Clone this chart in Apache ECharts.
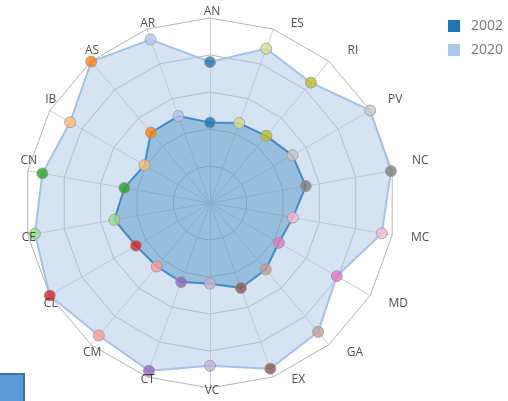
<!DOCTYPE html>
<html>
<head>
<meta charset="utf-8">
<script src="https://cdn.jsdelivr.net/npm/echarts@6/dist/echarts.min.js"></script>
<style>
html,body{margin:0;padding:0;background:#fff;}
#chart{width:508px;height:401px;}
</style>
</head>
<body>
<div id="chart"></div>
<script>
// ---- data (clockwise from top) ----
const indicators = ['AN','ES','RI','PV','NC','MC','MD','GA','EX','VC','CT','CM','CL','CE','CN','IB','AS','AR'];
const values2002 = [43.5, 46, 47.4, 51.5, 52.6, 45.5, 43, 46.9, 48.9, 43.6, 45.5, 44.8, 46.2, 52.5, 47, 40.9, 49.7, 50];
const values2020 = [76.2, 88.8, 84.9, 100, 99.3, 94.3, 79.1, 90.9, 95.3, 88, 96.5, 93.5, 100, 96.1, 92, 87.3, 99.8, 94];
const seriesNames = ['2002', '2020'];
const maxValue = 100;

// ---- styles ----
const pointColors = ['#1f77b4','#dbdb8d','#bcbd22','#c7c7c7','#7f7f7f','#f7b6d2','#e377c2','#c49c94','#8c564b',
                     '#c5b0d5','#9467bd','#ff9896','#d62728','#98df8a','#2ca02c','#ffbb78','#ff7f0e','#aec7e8'];
const CENTER = [210, 203], RADIUS = 185;
const n = indicators.length;

// ECharts radar runs counter-clockwise: reorder so that the picture runs clockwise
const order = indicators.map((_, k) => k === 0 ? 0 : n - k);
const libIndicators = order.map(i => indicators[i]);
const lib2002 = order.map(i => values2002[i]);
const lib2020 = order.map(i => values2020[i]);

function labelOffset(i) {
  const s = Math.min(i, n - i);
  const dy = [-6, -5.5, -10.5, -10.5, -10.5, 2, 8, 7.5, 2.5, 3][s];
  const right = i > 0 && i < 9;
  const dx = right ? [0, 24, 24, 25, 28, 28, 28, 26, 25][s] : ((s === 0 || s === 9) ? 2 : 1);
  return [dx, dy];
}

function pointData(vals) {
  return order.map((i, k) => ({
    value: [vals[k], libIndicators[k]],
    itemStyle: { color: pointColors[i] }
  }));
}

const chart = echarts.init(document.getElementById('chart'), null, { renderer: 'canvas' });
chart.setOption({
  animation: false,
  backgroundColor: '#fff',
  legend: {
    data: [
      { name: seriesNames[0], itemStyle: { color: '#1f77b4', borderWidth: 0 } },
      { name: seriesNames[1], itemStyle: { color: '#aec7e8', borderWidth: 0 } }
    ],
    orient: 'vertical',
    left: 443, top: 14,
    icon: 'rect',
    itemWidth: 12, itemHeight: 12, itemGap: 10,
    textStyle: { color: '#7a7a7a', fontSize: 14, fontFamily: 'Open Sans', padding: [0, 0, 0, 6] }
  },
  radar: {
    center: CENTER,
    radius: RADIUS,
    shape: 'polygon',
    splitNumber: 5,
    startAngle: 90,
    indicator: libIndicators.map(name => ({ name: name, max: maxValue, min: 0 })),
    axisName: { show: false },
    splitLine: { lineStyle: { color: '#b4b4b4', width: 1 } },
    splitArea: { show: false },
    axisLine: { lineStyle: { color: '#cccccc', width: 1 } }
  },
  polar: { center: CENTER, radius: RADIUS },
  angleAxis: {
    type: 'category', data: libIndicators, boundaryGap: false,
    startAngle: 90, clockwise: false, show: false
  },
  radiusAxis: { type: 'value', min: 0, max: maxValue, show: false },
  graphic: [{
    type: 'rect', left: -2, top: 373, shape: { width: 25, height: 32 },
    style: { fill: '#5b9bd5', stroke: '#4673a6', lineWidth: 2 }, silent: true
  }],
  series: [
    {
      type: 'radar',
      symbol: 'none',
      data: [
        {
          name: seriesNames[1], value: lib2020,
          lineStyle: { color: '#a3c0e6', width: 2 },
          areaStyle: { color: '#aec7e8', opacity: 0.5 },
          itemStyle: { color: '#aec7e8' }
        },
        {
          name: seriesNames[0], value: lib2002,
          lineStyle: { color: '#4f90c9', width: 2 },
          areaStyle: { color: '#1f77b4', opacity: 0.34 },
          itemStyle: { color: '#1f77b4' }
        }
      ]
    },
    {
      type: 'scatter', name: 'pts2020', coordinateSystem: 'polar',
      symbolSize: 11, itemStyle: { borderColor: '#999', borderWidth: 1 },
      data: pointData(lib2020), z: 5
    },
    {
      type: 'scatter', name: 'pts2002', coordinateSystem: 'polar',
      symbolSize: 11, itemStyle: { borderColor: '#999', borderWidth: 1 },
      data: pointData(lib2002), z: 5
    },
    {
      type: 'scatter', name: 'names', coordinateSystem: 'polar', silent: true,
      symbolSize: 0, z: 6,
      data: order.map((i, k) => ({
        value: [maxValue, libIndicators[k]],
        label: {
          show: true, position: 'inside', offset: labelOffset(i),
          formatter: indicators[i], color: '#222', fontSize: 12, fontFamily: 'Open Sans'
        }
      }))
    }
  ]
});
</script>
</body>
</html>
